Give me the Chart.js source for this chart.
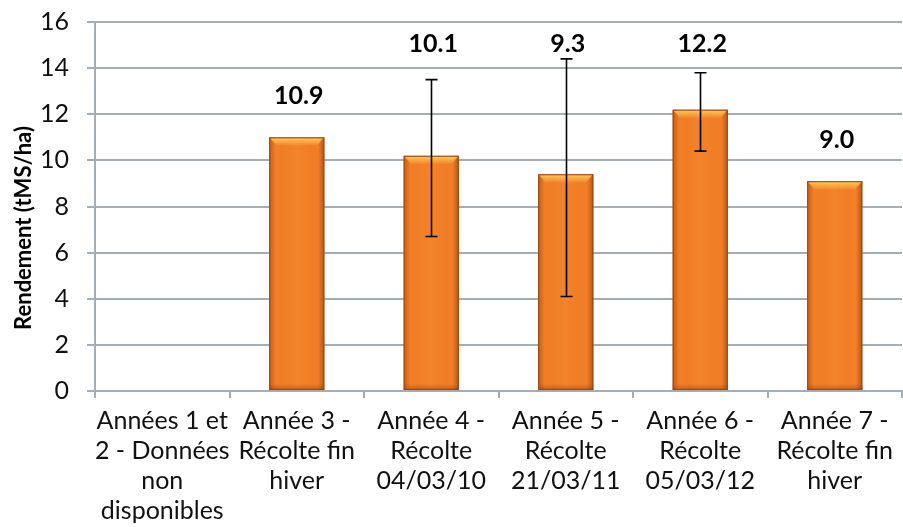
<!DOCTYPE html>
<html>
<head>
<meta charset="utf-8">
<script src="https://cdn.jsdelivr.net/npm/chart.js@4.4.0/dist/chart.umd.min.js"></script>
<style>
  html, body { margin: 0; padding: 0; background: #ffffff; }
  #wrap { width: 903px; height: 527px; position: relative; }
</style>
</head>
<body>
<div id="wrap"><canvas id="c" width="903" height="527"></canvas></div>
<script>
// ---- data ----
const categories = [
  ["Années 1 et", "2 - Données", "non", "disponibles"],
  ["Année 3 -", "Récolte fin", "hiver"],
  ["Année 4 -", "Récolte", "04/03/10"],
  ["Année 5 -", "Récolte", "21/03/11"],
  ["Année 6 -", "Récolte", "05/03/12"],
  ["Année 7 -", "Récolte fin", "hiver"]
];
const values = [null, 11.0, 10.2, 9.4, 12.2, 9.1];
const valueLabels = ["", "10.9", "10.1", "9.3", "12.2", "9.0"];
const errHigh = [null, null, 13.5, 14.4, 13.8, null];
const errLow = [null, null, 6.7, 4.1, 10.4, null];
const yTicks = [0, 2, 4, 6, 8, 10, 12, 14, 16];
const yTitle = "Rendement (tMS/ha)";

const FONT = "Lato, 'Open Sans', sans-serif";
const GRID = "#A3ADB3";

const barStyle = {
  id: 'barStyle',
  afterDatasetDraw(chart, args) {
    const ctx = chart.ctx;
    const meta = args.meta;
    meta.data.forEach((bar, i) => {
      if (values[i] == null) return;
      const x0 = bar.x - bar.width / 2, x1 = bar.x + bar.width / 2;
      const y0 = bar.y, y1 = bar.base;
      ctx.save();
      const g = ctx.createLinearGradient(x0, 0, x1, 0);
      g.addColorStop(0, 'rgba(150,60,10,0.5)');
      g.addColorStop(0.12, 'rgba(150,60,10,0.0)');
      g.addColorStop(0.5, 'rgba(255,170,80,0.12)');
      g.addColorStop(0.88, 'rgba(150,60,10,0.0)');
      g.addColorStop(1, 'rgba(120,50,10,0.55)');
      ctx.fillStyle = g;
      ctx.fillRect(x0, y0, x1 - x0, y1 - y0);
      const bh = 8;
      const tg = ctx.createLinearGradient(0, y0, 0, y0 + bh);
      tg.addColorStop(0, 'rgba(255,215,100,0.95)');
      tg.addColorStop(1, 'rgba(255,190,80,0.2)');
      ctx.fillStyle = tg;
      ctx.beginPath();
      ctx.moveTo(x0 + 1, y0 + 1);
      ctx.lineTo(x1 - 1, y0 + 1);
      ctx.lineTo(x1 - 7, y0 + bh);
      ctx.lineTo(x0 + 7, y0 + bh);
      ctx.closePath();
      ctx.fill();
      const bg = ctx.createLinearGradient(0, y1 - 6, 0, y1);
      bg.addColorStop(0, 'rgba(140,60,15,0)');
      bg.addColorStop(1, 'rgba(140,60,15,0.5)');
      ctx.fillStyle = bg;
      ctx.fillRect(x0, y1 - 6, x1 - x0, 6);
      ctx.strokeStyle = 'rgba(140,70,25,0.9)';
      ctx.lineWidth = 1;
      ctx.strokeRect(x0 + 0.5, y0 + 0.5, x1 - x0 - 1, y1 - y0 - 1);
      ctx.restore();
    });
  }
};

const errorBars = {
  id: 'errorBars',
  afterDatasetsDraw(chart) {
    const ctx = chart.ctx;
    const ys = chart.scales.y;
    const meta = chart.getDatasetMeta(0);
    ctx.save();
    ctx.strokeStyle = '#000';
    ctx.lineWidth = 1.6;
    meta.data.forEach((bar, i) => {
      if (errHigh[i] == null) return;
      const x = Math.round(bar.x) + 0.5;
      const yh = ys.getPixelForValue(errHigh[i]);
      const yl = ys.getPixelForValue(errLow[i]);
      ctx.beginPath();
      ctx.moveTo(x, yh); ctx.lineTo(x, yl);
      ctx.moveTo(x - 6, yh); ctx.lineTo(x + 6, yh);
      ctx.moveTo(x - 6, yl); ctx.lineTo(x + 6, yl);
      ctx.stroke();
    });
    ctx.fillStyle = '#000';
    ctx.font = "bold 25px " + FONT;
    ctx.textAlign = 'center';
    ctx.textBaseline = 'middle';
    meta.data.forEach((bar, i) => {
      if (!valueLabels[i]) return;
      const v = errHigh[i] != null ? 15.05 : values[i] + 1.8;
      ctx.fillText(valueLabels[i], bar.x + 2, ys.getPixelForValue(v));
    });
    ctx.font = "bold 22px " + FONT;
    ctx.translate(24, 228);
    ctx.rotate(-Math.PI / 2);
    ctx.fillText(yTitle, 0, 0);
    ctx.restore();
  }
};

new Chart(document.getElementById('c'), {
  type: 'bar',
  data: {
    labels: categories,
    datasets: [{
      data: values,
      backgroundColor: '#F27F27',
      borderWidth: 0,
      categoryPercentage: 1.0,
      barPercentage: 0.41
    }]
  },
  options: {
    responsive: false,
    animation: false,
    events: [],
    layout: { padding: { top: 22, right: 1, left: 0, bottom: 0 } },
    plugins: { legend: { display: false }, tooltip: { enabled: false } },
    scales: {
      x: {
        afterFit(s) { s.height = 136; s.paddingLeft = 0; s.paddingRight = 0; },
        grid: { display: true, drawOnChartArea: false, drawTicks: true, tickLength: 7, offset: true, color: GRID, lineWidth: 2 },
        border: { display: true, color: GRID, width: 2 },
        ticks: { color: '#111', font: { family: FONT, size: 25, lineHeight: 1.2 }, padding: 8, maxRotation: 0, autoSkip: false }
      },
      y: {
        min: 0, max: 16,
        afterFit(s) { s.width = 95; s.paddingTop = 0; s.paddingBottom = 0; },
        afterBuildTicks(s) { s.ticks = yTicks.map(v => ({ value: v })); },
        grid: { color: GRID, lineWidth: 2, tickLength: 8 },
        border: { display: true, color: GRID, width: 2 },
        ticks: { color: '#111', font: { family: FONT, size: 25 }, padding: 18 }
      }
    }
  },
  plugins: [barStyle, errorBars]
});
</script>
</body>
</html>
